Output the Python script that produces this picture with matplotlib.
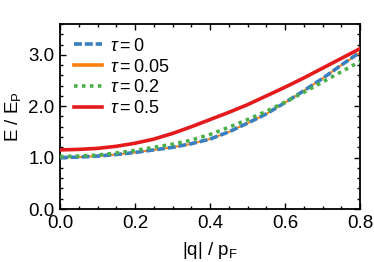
import numpy as np
import matplotlib
matplotlib.use("Agg")
import matplotlib.pyplot as plt
from matplotlib.ticker import MultipleLocator, FormatStrFormatter

plt.rcParams['font.family'] = ['Liberation Sans', 'DejaVu Sans']
plt.rcParams['mathtext.fontset'] = 'custom'
plt.rcParams['mathtext.rm'] = 'Liberation Sans'
plt.rcParams['mathtext.it'] = 'Liberation Sans:italic'

# momentum |q| / p_F
q = [0.0, 0.05, 0.1, 0.15, 0.2, 0.25, 0.3, 0.35, 0.4, 0.45, 0.5, 0.55, 0.6, 0.65, 0.7, 0.75, 0.8]

# energies E / E_P
e_tau0 = [1.0, 1.01, 1.03, 1.06, 1.10, 1.15, 1.20, 1.27, 1.36, 1.50, 1.67, 1.85, 2.07, 2.30, 2.54, 2.80, 3.05]
e_tau005 = [1.0, 1.01, 1.03, 1.06, 1.10, 1.15, 1.20, 1.27, 1.36, 1.50, 1.67, 1.85, 2.07, 2.30, 2.54, 2.80, 3.04]
e_tau02 = [1.02, 1.03, 1.05, 1.09, 1.14, 1.20, 1.26, 1.34, 1.45, 1.59, 1.74, 1.90, 2.08, 2.27, 2.47, 2.67, 2.87]
e_tau05 = [1.15, 1.16, 1.18, 1.22, 1.28, 1.36, 1.47, 1.60, 1.74, 1.88, 2.03, 2.20, 2.37, 2.55, 2.74, 2.93, 3.12]

fig = plt.figure(figsize=(3.74, 2.62), dpi=100)
ax = fig.add_axes([60 / 374, 1 - 209 / 262, 300 / 374, 185 / 262])

ax.plot(q, e_tau0, color='#3a80c0', linestyle=(0, (2.2, 0.8)), linewidth=2.6, label=r'$\tau=0$', zorder=3)
ax.plot(q, e_tau005, color='#ff7f0e', linestyle='-', linewidth=1.4, label=r'$\tau=0.05$', zorder=2)
ax.plot(q, e_tau02, color='#4daf4a', linestyle=(0, (1, 1.2)), linewidth=2.6, label=r'$\tau=0.2$', zorder=4)
ax.plot(q, e_tau05, color='#e41a1c', linestyle='-', linewidth=2.6, label=r'$\tau=0.5$', zorder=5)

leg = ax.legend(loc='upper left', frameon=False, fontsize=13, handlelength=1.6,
                handletextpad=0.4, labelspacing=0.22, borderaxespad=0.35)
for h in leg.get_lines():
    h.set_linewidth(2.6)

ax.set_xlim(0, 0.8)
ax.set_ylim(0, 3.6)
ax.xaxis.set_major_locator(MultipleLocator(0.2))
ax.xaxis.set_minor_locator(MultipleLocator(0.05))
ax.yaxis.set_major_locator(MultipleLocator(1.0))
ax.yaxis.set_minor_locator(MultipleLocator(0.2))
ax.xaxis.set_major_formatter(FormatStrFormatter('%.1f'))
ax.yaxis.set_major_formatter(FormatStrFormatter('%.1f'))
ax.tick_params(which='both', direction='in', top=True, right=True, labelsize=13.5, width=1)
ax.tick_params(which='major', length=4, pad=4)
ax.tick_params(which='minor', length=2)
for s in ax.spines.values():
    s.set_linewidth(1.3)

ax.set_xlabel('|q| / p$_\\mathrm{F}$', fontsize=13.5, labelpad=6)
ax.set_ylabel('E / E$_\\mathrm{P}$', fontsize=13.5, labelpad=4)

fig.savefig('out.png', dpi=100)
